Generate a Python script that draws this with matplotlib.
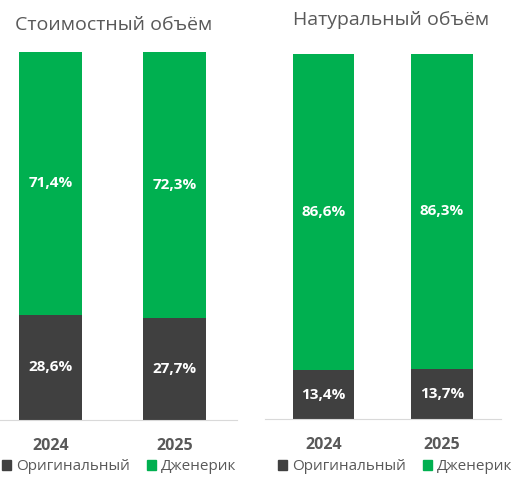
import matplotlib.pyplot as plt
from matplotlib.patches import Patch

plt.rcParams['font.family'] = ['Open Sans', 'DejaVu Sans']

# данные
years = ['2024', '2025']
titles = ['Стоимостный объём', 'Натуральный объём']
series_names = ['Оригинальный', 'Дженерик']
original_value = [28.6, 27.7]
generic_value = [71.4, 72.3]
original_volume = [13.4, 13.7]
generic_volume = [86.6, 86.3]

c_orig = '#404040'
c_gen = '#00B050'
c_text = '#595959'

W, H = 522, 482
fig = plt.figure(figsize=(W / 100, H / 100), dpi=100)


def fx(px):
    return px / W


def fy(py):
    return 1 - py / H


# положение панелей в пикселях: (левый, правый, верх, низ, ширина столбца, xlim,
# позиция заголовка, центр легенды)
panels = [
    (0, 237, 52, 420, 0.508, (-0.407, 1.504), (15, 25, 'left'), 119),
    (265, 501, 54, 419, 0.515, (-0.494, 1.498), (391, 20, 'center'), 395),
]
data = [(original_value, generic_value), (original_volume, generic_volume)]

for (l, r, t, b, bw, xl, tpos, lgx), (orig, gen), title in zip(panels, data, titles):
    ax = fig.add_axes([fx(l), fy(b), fx(r - l), fy(t) - fy(b)])
    x = range(len(years))
    ax.bar(x, orig, width=bw, color=c_orig, label=series_names[0])
    ax.bar(x, gen, width=bw, bottom=orig, color=c_gen, label=series_names[1])
    for i in x:
        ax.text(i, orig[i] / 2, f'{orig[i]:.1f}%'.replace('.', ','), ha='center', va='center',
                color='white', fontsize=11, fontweight='bold')
        ax.text(i, orig[i] + gen[i] / 2, f'{gen[i]:.1f}%'.replace('.', ','), ha='center',
                va='center', color='white', fontsize=11, fontweight='bold')
    ax.set_xlim(*xl)
    ax.set_ylim(0, 100)
    ax.set_yticks([])
    ax.set_xticks(list(x))
    ax.set_xticklabels(years, fontsize=11.5, fontweight='bold', color=c_text)
    ax.tick_params(axis='x', length=0, pad=13)
    for s in ['top', 'right', 'left']:
        ax.spines[s].set_visible(False)
    ax.spines['bottom'].set_color('#d9d9d9')
    fig.text(fx(tpos[0]), fy(tpos[1]), title, fontsize=14, color=c_text,
             ha=tpos[2], va='center')
    handles = [Patch(color=c_orig), Patch(color=c_gen)]
    fig.legend(handles, series_names, loc='center', bbox_to_anchor=(fx(lgx), fy(467)), ncol=2,
               frameon=False, fontsize=11, labelcolor=c_text, handlelength=0.6,
               handleheight=0.6, handletextpad=0.3, columnspacing=1.1, borderpad=0)

fig.savefig('out.png', dpi=100)
